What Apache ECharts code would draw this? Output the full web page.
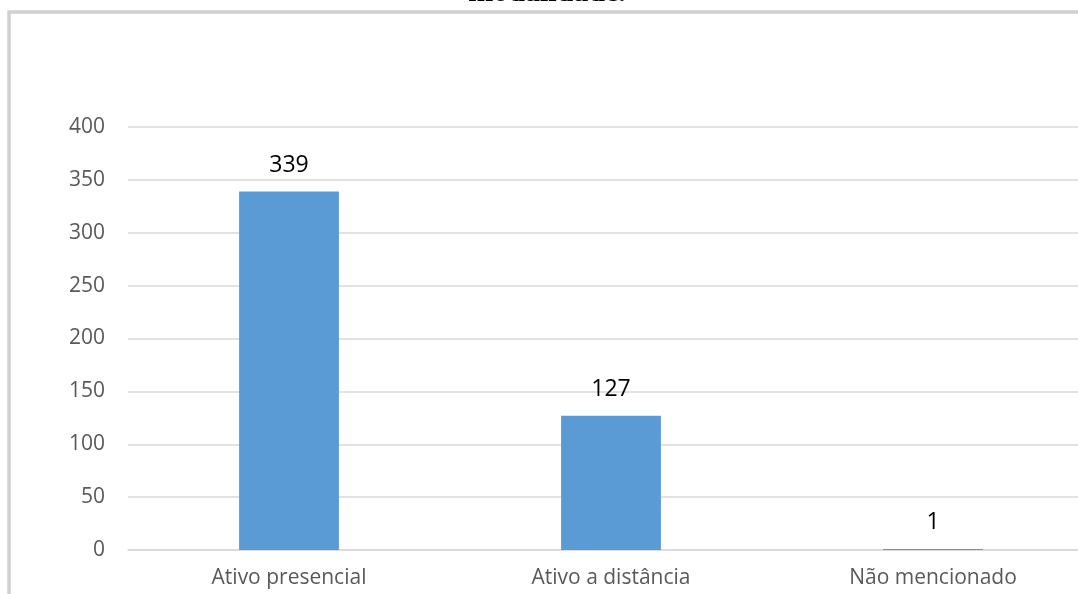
<!DOCTYPE html>
<html>
<head>
<meta charset="utf-8">
<style>
  html, body { margin: 0; padding: 0; background: #fff; }
  #chart { width: 1078px; height: 594px; }
</style>
<script src="https://cdn.jsdelivr.net/npm/echarts@6/dist/echarts.min.js"></script>
</head>
<body>
<div id="chart"></div>
<script>
const categories = ['Ativo presencial', 'Ativo a distância', 'Não mencionado'];
const counts = [339, 127, 1];
const yTicks = [0, 50, 100, 150, 200, 250, 300, 350, 400];

const chart = echarts.init(document.getElementById('chart'), null, { renderer: 'canvas' });

chart.setOption({
  animation: false,
  backgroundColor: '#ffffff',
  graphic: [{
    // last line of the heading, running off the top edge
    type: 'text',
    silent: true,
    style: {
      text: 'modalidade.',
      x: 547,
      y: 8,
      align: 'center',
      verticalAlign: 'bottom',
      font: 'bold 30px "Liberation Serif"',
      fill: '#000000'
    },
    z: 5
  }, {
    type: 'rect',
    shape: { x: 9, y: 12, width: 1200, height: 800 },
    style: { fill: null, stroke: '#d0d0d0', lineWidth: 3.5 },
    silent: true,
    z: 10
  }],
  // plot area runs past the right edge of the canvas
  grid: { left: 128, width: 966, top: 127, height: 423, outerBoundsMode: 'none' },
  xAxis: {
    type: 'category',
    data: categories,
    axisLine: { lineStyle: { color: '#d9d9d9', width: 1.5 } },
    axisTick: { show: false },
    axisLabel: {
      color: '#595959',
      fontFamily: 'Open Sans',
      fontSize: 21,
      margin: 18
    }
  },
  yAxis: {
    type: 'value',
    min: yTicks[0],
    max: yTicks[yTicks.length - 1],
    interval: yTicks[1] - yTicks[0],
    axisLine: { show: false },
    axisTick: { show: false },
    splitLine: { lineStyle: { color: '#d9d9d9', width: 1.5 } },
    axisLabel: {
      color: '#595959',
      fontFamily: 'Open Sans',
      fontSize: 21,
      margin: 23
    }
  },
  series: [{
    type: 'bar',
    data: counts,
    barWidth: '31%',
    itemStyle: { color: '#5b9bd5' },
    label: {
      show: true,
      position: 'top',
      distance: 15,
      color: '#000000',
      fontFamily: 'Open Sans',
      fontSize: 23
    }
  }]
});
</script>
</body>
</html>
